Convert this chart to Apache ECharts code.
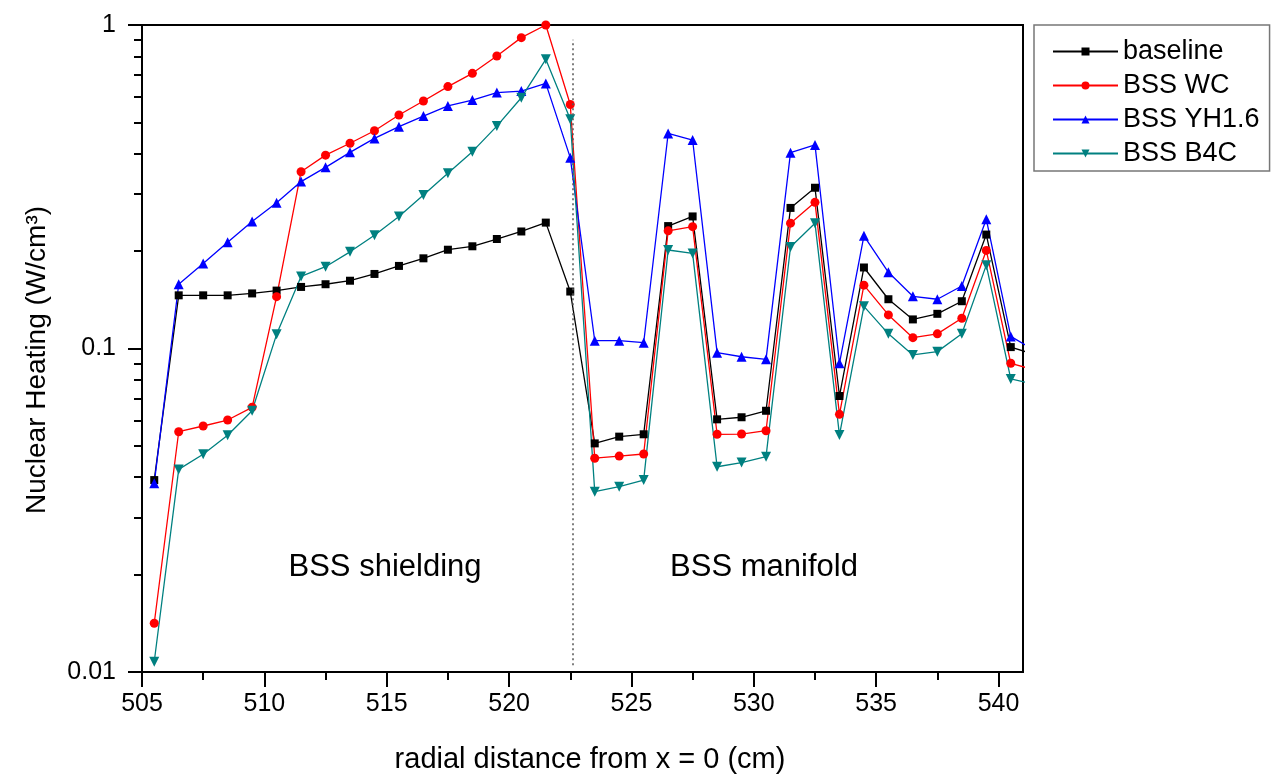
<!DOCTYPE html>
<html>
<head>
<meta charset="utf-8">
<script src="https://cdn.jsdelivr.net/npm/echarts@6/dist/echarts.min.js"></script>
<style>
html,body{margin:0;padding:0;background:#fff;}
#chart{width:1277px;height:777px;}
</style>
</head>
<body>
<div id="chart"></div>
<script>
// ---- data ----
const xValues = [505.5, 506.5, 507.5, 508.5, 509.5, 510.5, 511.5, 512.5, 513.5, 514.5, 515.5, 516.5, 517.5, 518.5, 519.5, 520.5, 521.5, 522.5, 523.5, 524.5, 525.5, 526.5, 527.5, 528.5, 529.5, 530.5, 531.5, 532.5, 533.5, 534.5, 535.5, 536.5, 537.5, 538.5, 539.5, 540.5, 541.5];
const baseline = [0.0392, 0.146, 0.146, 0.146, 0.148, 0.151, 0.155, 0.158, 0.162, 0.170, 0.180, 0.190, 0.202, 0.207, 0.218, 0.230, 0.245, 0.150, 0.0509, 0.0534, 0.0543, 0.239, 0.256, 0.0604, 0.0613, 0.0642, 0.272, 0.314, 0.0713, 0.178, 0.142, 0.123, 0.128, 0.140, 0.225, 0.101, 0.0957];
const bssWC = [0.01415, 0.0553, 0.0576, 0.0601, 0.0658, 0.1446, 0.352, 0.396, 0.431, 0.471, 0.527, 0.582, 0.645, 0.709, 0.802, 0.914, 1.0, 0.568, 0.0458, 0.0465, 0.0472, 0.231, 0.238, 0.0543, 0.0544, 0.0557, 0.244, 0.283, 0.0626, 0.157, 0.127, 0.108, 0.111, 0.124, 0.201, 0.090, 0.0858];
const bssYH = [0.0383, 0.158, 0.183, 0.213, 0.247, 0.282, 0.328, 0.363, 0.404, 0.446, 0.485, 0.523, 0.562, 0.586, 0.618, 0.625, 0.660, 0.389, 0.1057, 0.1057, 0.1042, 0.462, 0.441, 0.0971, 0.0943, 0.0926, 0.403, 0.426, 0.090, 0.223, 0.172, 0.145, 0.142, 0.156, 0.251, 0.109, 0.0985];
const bssB4C = [0.01076, 0.0423, 0.0471, 0.0539, 0.0642, 0.1106, 0.167, 0.179, 0.199, 0.224, 0.256, 0.298, 0.348, 0.406, 0.487, 0.596, 0.783, 0.511, 0.0361, 0.0374, 0.0392, 0.2016, 0.1968, 0.0431, 0.0444, 0.0463, 0.206, 0.244, 0.054, 0.135, 0.111, 0.0955, 0.0978, 0.111, 0.181, 0.0805, 0.0775];
const seriesNames = ['baseline', 'BSS WC', 'BSS YH1.6', 'BSS B4C'];
const xMajorTicks = [505, 510, 515, 520, 525, 530, 535, 540];
const xMinorTicks = [507.5, 512.5, 517.5, 522.5, 527.5, 532.5, 537.5];
const yMajorTicks = [0.01, 0.1, 1];
const yMinorTicks = [0.02, 0.03, 0.04, 0.05, 0.06, 0.07, 0.08, 0.09, 0.2, 0.3, 0.4, 0.5, 0.6, 0.7, 0.8, 0.9];
const dividerX = 522.6;
const dividerRange = [0.0105, 0.9];
const xTitle = 'radial distance from x = 0 (cm)';
const yTitle = 'Nuclear Heating (W/cm³)';
const regionLabels = ['BSS shielding', 'BSS manifold'];

const FONT = 'Arial, "Liberation Sans", sans-serif';
const pair = (ys) => xValues.map((x, i) => [x, ys[i]]);

const chart = echarts.init(document.getElementById('chart'), null, {renderer: 'canvas'});

const xMin = 505, xMax = 541, yMin = 0.01, yMax = 1;

function lineSeries(name, data, color, symbol, size, rotate) {
  return {
    name, type: 'line', data: pair(data),
    xAxisIndex: 0, yAxisIndex: 0,
    symbol, symbolSize: size, symbolRotate: rotate || 0,
    showSymbol: true,
    lineStyle: {color, width: 1.3},
    itemStyle: {color, borderWidth: 0},
    emphasis: {disabled: true},
    animation: false,
    z: 3
  };
}

const series = [
  lineSeries(seriesNames[0], baseline, '#000000', 'rect', 8),
  lineSeries(seriesNames[1], bssWC, '#ff0000', 'circle', 9),
  lineSeries(seriesNames[2], bssYH, '#0000ff', 'triangle', 10),
  lineSeries(seriesNames[3], bssB4C, '#008080', 'triangle', 10, 180)
];
series[0].markLine = {
  silent: true, symbol: ['none', 'none'], animation: false,
  lineStyle: {type: [2, 3], color: '#555', width: 1.5},
  label: {show: false},
  data: [[{coord: [dividerX, dividerRange[0]]}, {coord: [dividerX, dividerRange[1]]}]]
};

const option = {
  animation: false,
  backgroundColor: '#ffffff',
  grid: {left: 142, right: 254, top: 25, bottom: 105, show: true, borderColor: '#000', borderWidth: 2, backgroundColor: 'transparent'},
  legend: {
    data: seriesNames, orient: 'vertical', left: 1034, top: 25,
    itemWidth: 65, itemHeight: 10, itemGap: 7,
    padding: [13, 10, 4, 18],
    borderColor: '#777', borderWidth: 1.5, backgroundColor: '#fff',
    textStyle: {fontFamily: FONT, fontSize: 27, color: '#000'},
    selectedMode: false
  },
  xAxis: [{
    type: 'value', min: xMin, max: xMax, position: 'bottom',
    axisLine: {show: true, lineStyle: {color: '#000', width: 2}},
    axisTick: {show: true, inside: false, length: 15, lineStyle: {color: '#000', width: 2}, customValues: xMajorTicks},
    axisLabel: {show: true, customValues: xMajorTicks, margin: 20, fontFamily: FONT, fontSize: 25, color: '#000'},
    splitLine: {show: false}
  }, {
    type: 'value', min: xMin, max: xMax, position: 'bottom',
    axisLine: {show: false},
    axisTick: {show: true, length: 8, lineStyle: {color: '#000', width: 2}, customValues: xMinorTicks},
    axisLabel: {show: false},
    splitLine: {show: false}
  }],
  yAxis: [{
    type: 'log', logBase: 10, min: yMin, max: yMax, position: 'left',
    axisLine: {show: true, lineStyle: {color: '#000', width: 2}},
    axisTick: {show: true, length: 14, lineStyle: {color: '#000', width: 2}, customValues: yMajorTicks},
    axisLabel: {show: true, customValues: yMajorTicks, margin: 26, fontFamily: FONT, fontSize: 25, color: '#000',
      formatter: (v) => String(+(+v).toPrecision(3))},
    splitLine: {show: false}
  }, {
    type: 'log', logBase: 10, min: yMin, max: yMax, position: 'left', offset: 0,
    axisLine: {show: false},
    axisTick: {show: true, length: 8, lineStyle: {color: '#000', width: 2}, customValues: yMinorTicks},
    axisLabel: {show: false},
    splitLine: {show: false}
  }],
  graphic: [
    {type: 'text', x: 37, y: 360, rotation: Math.PI / 2, silent: true,
      style: {text: yTitle, font: '28px ' + FONT, fill: '#000', align: 'center', verticalAlign: 'middle', textAlign: 'center', textVerticalAlign: 'middle'}},
    {type: 'text', x: 590, y: 760, silent: true,
      style: {text: xTitle, font: '29px ' + FONT, fill: '#000', align: 'center', verticalAlign: 'middle', textAlign: 'center', textVerticalAlign: 'middle'}},
    {type: 'text', x: 385, y: 567, silent: true,
      style: {text: regionLabels[0], font: '31px ' + FONT, fill: '#000', align: 'center', verticalAlign: 'middle', textAlign: 'center', textVerticalAlign: 'middle'}},
    {type: 'text', x: 764, y: 567, silent: true,
      style: {text: regionLabels[1], font: '31px ' + FONT, fill: '#000', align: 'center', verticalAlign: 'middle', textAlign: 'center', textVerticalAlign: 'middle'}}
  ],
  series
};
chart.setOption(option);
</script>
</body>
</html>
